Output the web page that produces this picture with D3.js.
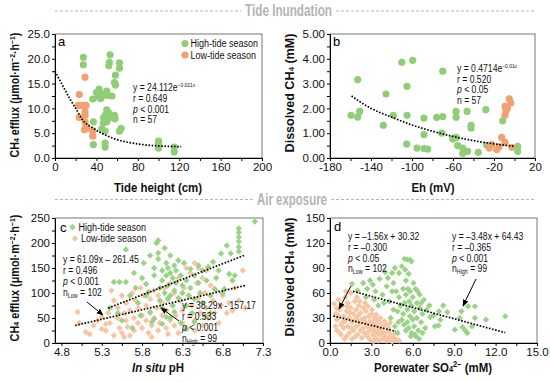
<!DOCTYPE html>
<html><head><meta charset="utf-8">
<script src="https://cdn.jsdelivr.net/npm/d3@7"></script>
<style>
body{margin:0;background:#fff}
svg{display:block}
</style></head><body>
<svg id="chart" width="550" height="382"></svg>
<script>
// ---------------- DATA ----------------
// Panel a: tide height (cm) vs CH4 efflux
const aHigh = [[27.4,20.3],[27.4,18.8],[53.2,20.8],[52.6,19.3],[52,18.6],[62.3,19.2],[62.3,18.1],[58.4,16.7],[58.4,14.7],[57.5,15.2],
  [42.6,13.9],[43.6,13.1],[36.5,11.9],[41.3,12.4],[46.8,12.6],[51.6,12.6],[50,9.7],[52,9.1],[48.4,8.6],[57.4,8.6],[58,7.9],[52,8.1],
  [46.8,7.1],[37.1,7.3],[45.2,5.9],[48.4,5.4],[63.9,6.0],[62.3,5.4],[37.1,2.7],[48.4,3.0],[48.4,2.2],[100,3.4],[100,2.7],[100,2.0],
  [115.2,2.2],[115.2,1.2],[44,12.0],[55,12.5],[50,13.5],[47,8.1],[50,7.3],[40,13.2],[56,8.3]];
const aLow = [[29,16.3],[23.5,12.8],[22.6,10.6],[26.4,10.6],[30,10.6],[23.5,8.2],[29,8.6],[29,7.3],[30,6.4],[28.4,5.7],[36.5,5.5],[36.5,4.4],[31,6.0],[29,9.3]];
const aTrend = [[0,17.5],[10,13.6],[15,11.7],[20,10.0],[27,7.6],[37,6.0],[45,5.0],[60,3.7],[75,3.0],[92,2.55],[110,2.35],[122,2.3]];
const aXTicks = [0,40,80,120,160,200];
const aYTicks = [0,5,10,15,20,25];

// Panel b: Eh (mV) vs dissolved CH4
const bHigh = [[-153,3.16],[-110,3.86],[-99.3,3.94],[-70,3.5],[-125.4,2.58],[-104.9,2.89],[-159.5,1.72],[-153,1.65],[-151,1.88],[-128,1.32],
  [-118.2,1.72],[-104.9,1.72],[-88.3,1.61],[-75.9,1.64],[-70,1.67],[-57,1.88],[-57,1.64],[-46.3,1.88],[-42.4,1.32],[-42.4,1.21],[-28,1.95],
  [-88.3,0.94],[-71,1.0],[-57,0.83],[-60.3,0.77],[-105.2,0.56],[-95.1,0.40],[-88.3,0.38],[-84.7,0.36],[-55.4,0.50],[-50.5,0.40],[-45.7,0.27],
  [-50.5,0.18],[-35.3,0.23],[-27.1,0.51],[-11.5,1.50],[3.1,0.47],[3.1,0.27]];
const bLow = [[-5.1,2.39],[-3.7,2.22],[-9.3,2.08],[-8.3,1.91],[-9.3,1.72],[-12.5,0.83],[-9.3,0.63],[-22.2,0.54],[-24.6,0.40],[-17.4,0.34],[-2.7,0.43],[-7,2.0],[-15,0.45]];
const bTrend = [[-159,2.5],[-140,2.0],[-120,1.65],[-100,1.33],[-80,1.08],[-60,0.87],[-40,0.70],[-20,0.57],[0,0.47]];
const bXTicks = [-180,-140,-100,-60,-20,20];
const bYTicks = [0,1,2,3,4,5];

// Panel c: in situ pH vs CH4 efflux
const cHigh = [[5.4,70],[5.45,122],[5.52,122],[5.6,122],[5.6,187],[5.5,60],[5.55,45],[5.65,95],[5.7,140],[5.72,110],[5.75,80],[5.78,55],
  [5.8,130],[5.82,160],[5.85,95],[5.85,118],[5.88,102],[5.9,175],[5.9,62],[5.92,42],[5.95,150],[5.95,135],[5.98,200],[6.0,205],[6.0,180],
  [6.0,168],[6.02,110],[6.02,85],[6.05,125],[6.05,145],[6.05,70],[6.08,190],[6.08,100],[6.1,160],[6.1,135],[6.1,52],[6.12,150],[6.12,115],
  [6.12,88],[6.15,175],[6.15,140],[6.15,95],[6.18,130],[6.18,75],[6.2,155],[6.2,105],[6.2,62],[6.22,145],[6.22,120],[6.25,165],[6.25,90],
  [6.28,135],[6.28,40],[6.3,115],[6.3,100],[6.32,160],[6.35,125],[6.35,75],[6.38,95],[6.4,148],[6.4,110],[6.42,60],[6.45,135],[6.45,88],
  [6.5,155],[6.5,120],[6.52,100],[6.55,80],[6.55,145],[6.58,55],[6.6,125],[6.62,152],[6.65,95],[6.68,162],[6.7,108],[6.72,130],[6.75,145],
  [6.78,179],[6.8,100],[6.85,195],[6.88,138],[6.9,179],[6.92,125],[6.95,135],[7.0,229],[7.0,221],[7.0,212],[7.0,203],[7.0,192],[7.0,183],
  [7.2,243],[6.05,38],[5.95,48],[6.65,60],[6.45,42],[6.15,50],[5.68,30],[6.35,28],[6.82,108]];
const cLow = [[5.0,62],[5.02,40],[5.1,22],[5.15,18],[5.2,35],[5.25,45],[5.3,28],[5.3,52],[5.35,25],[5.38,60],[5.4,40],[5.42,105],[5.45,85],
  [5.45,15],[5.5,50],[5.5,70],[5.52,30],[5.55,95],[5.55,20],[5.58,60],[5.6,45],[5.6,80],[5.62,32],[5.65,65],[5.65,15],[5.68,100],[5.7,50],
  [5.7,25],[5.72,85],[5.75,40],[5.75,70],[5.78,110],[5.8,55],[5.8,30],[5.82,95],[5.85,75],[5.85,45],[5.88,20],[5.9,60],[5.9,88],[5.92,35],
  [5.95,105],[5.95,50],[5.98,70],[6.0,25],[6.0,95],[6.02,40],[6.05,80],[6.05,55],[6.08,110],[6.1,30],[6.1,65],[6.12,90],[6.15,45],[6.15,120],
  [6.18,75],[6.2,35],[6.2,100],[6.22,55],[6.25,130],[6.25,20],[6.28,85],[6.3,40],[6.3,65],[6.32,110],[6.35,150],[6.35,30],[6.38,95],[6.4,55],
  [6.4,140],[6.42,75],[6.45,160],[6.45,45],[6.48,120],[6.5,90],[6.5,150],[6.52,60],[6.55,35],[6.55,130],[6.58,100],[6.6,70],[6.6,145],
  [6.62,50],[6.65,115],[6.68,85],[6.7,60],[6.72,105],[6.75,40],[6.78,75],[6.8,95],[6.85,60],[6.88,80],[6.92,65],[6.95,110],[7.0,85],
  [7.05,145],[7.08,70],[5.35,38],[5.58,12],[5.92,12],[6.12,18],[6.45,25]];
const cTrendHigh = [[5.38,70],[7.08,176]];
const cTrendLow = [[4.97,35],[7.08,115]];
const cXTicks = [4.8,5.3,5.8,6.3,6.8,7.3];
const cYTicks = [0,50,100,150,200,250];

// Panel d: porewater SO4 vs dissolved CH4
const dHigh = [[1.6,71],[2.0,63],[2.4,72],[2.6,55],[2.9,75],[3.1,70],[3.3,62],[3.6,77],[3.5,45],[3.8,58],[4.0,85],[4.1,68],[4.3,50],[4.5,84],
  [4.6,72],[4.7,90],[4.8,62],[5.0,84],[5.0,55],[5.2,92],[5.4,101],[5.6,100],[5.8,100],[5.9,98],[5.7,83],[5.5,75],[5.3,65],[5.1,45],[4.9,38],
  [4.6,40],[4.4,30],[4.7,20],[4.9,12],[5.2,28],[5.3,35],[5.4,48],[5.5,58],[5.6,40],[5.6,25],[5.7,18],[5.8,62],[5.8,32],[5.9,45],[5.9,12],
  [6.0,55],[6.0,28],[6.1,38],[6.1,20],[6.2,65],[6.2,8],[6.3,48],[6.3,30],[6.4,15],[6.5,42],[6.5,58],[6.6,25],[6.7,35],[6.8,52],[6.9,18],
  [7.0,40],[7.2,45],[7.26,31],[7.5,33],[7.86,21],[7.9,38],[8.0,28],[8.5,37],[9.05,16],[9.4,30],[9.52,38],[9.6,19],[9.8,15],[9.95,12],
  [10.0,44],[10.3,20],[10.5,44],[10.5,30],[11.3,28],[12.7,32],[5.5,15],[5.75,50],[6.05,72],[5.35,22],[4.95,25],[6.15,10],[6.35,62],
  [5.65,65],[4.5,62],[3.9,48],[3.2,52],[2.7,65],[6.7,12],[7.6,20],[8.2,45],[5.85,8],[6.45,5],[5.45,88],[4.2,78],[6.6,48]];
const dLow = [[0.3,47],[0.4,35],[0.5,28],[0.5,15],[0.6,52],[0.7,40],[0.8,22],[0.8,10],[0.9,45],[1.0,32],[1.0,18],[1.1,55],[1.1,26],[1.2,38],
  [1.2,8],[1.3,48],[1.3,20],[1.4,30],[1.4,12],[1.5,60],[1.5,42],[1.6,25],[1.6,5],[1.7,35],[1.7,15],[1.8,50],[1.8,28],[1.9,20],[1.9,40],
  [2.0,10],[2.0,32],[2.1,45],[2.1,22],[2.2,15],[2.2,36],[2.3,28],[2.3,6],[2.4,42],[2.4,18],[2.5,30],[2.5,12],[2.6,24],[2.6,38],[2.7,8],
  [2.7,20],[2.8,32],[2.8,14],[2.9,26],[2.9,4],[3.0,18],[3.0,35],[3.1,10],[3.1,24],[3.2,30],[3.2,15],[3.3,6],[3.3,22],[3.4,12],[3.4,28],
  [3.5,18],[3.5,3],[3.6,25],[3.6,10],[3.7,15],[3.8,20],[3.8,5],[3.9,12],[4.0,8],[4.0,22],[4.1,3],[4.2,14],[4.3,6],[4.4,10],[4.5,2],
  [4.6,7],[4.8,4],[5.0,3],[0.6,33],[0.9,25],[1.25,44],[1.55,18],[1.85,8],[2.15,50],[2.45,26],[2.75,44],[3.05,40],[3.35,34],[3.65,30],
  [3.95,26],[4.25,18],[0.4,20],[0.7,12],[1.05,5],[1.45,36],[2.05,26],[2.55,48],[3.15,2],[4.35,24],[4.7,12],[1.95,55],[1.15,62],[0.5,42]];
const dTrendHigh = [[1.67,62],[12.7,12.4]];
const dTrendLow = [[0.24,32.4],[4.76,14]];
const dXTicks = [0,3,6,9,12,15];
const dYTicks = [0,30,60,90,120,150];

const legendLabels = ["High-tide season","Low-tide season"];

// ---------------- STYLE ----------------
const GREEN = "#8fcd76", ORANGE = "#f0a16f";
const GREEN2 = "#9ad385", ORANGE2 = "#f6c6a3";
const SANS = "'Liberation Sans',Arial,sans-serif";
const SQ = 0.82; // horizontal squeeze of annotation text

const svg = d3.select("#chart");

function rich(sel, parts){
  parts.forEach(p=>{
    const t = sel.append("tspan").text(p.t);
    if(p.fs) t.attr("font-size", p.fs);
    if(p.dy) t.attr("dy", p.dy);
    if(p.it) t.attr("font-style","italic");
  });
  return sel;
}

function panel(o){
  const x = d3.scaleLinear().domain(o.xd).range([o.L,o.R]);
  const y = d3.scaleLinear().domain(o.yd).range([o.B,o.T]);
  const g = svg.append("g");
  g.append("rect").attr("x",o.L).attr("y",o.T).attr("width",o.R-o.L).attr("height",o.B-o.T)
    .attr("fill","none").attr("stroke","#555").attr("stroke-width",0.8);
  const isMajor = (arr,d)=>arr.some(m=>Math.abs(m-d)<1e-6);
  const xa = d3.axisBottom(x).tickValues(o.xMinor).tickSize(3).tickSizeOuter(0).tickPadding(2)
    .tickFormat(d=>isMajor(o.xMajor,d)?o.xf(d):"");
  const ya = d3.axisLeft(y).tickValues(o.yMinor).tickSize(3).tickSizeOuter(0).tickPadding(2)
    .tickFormat(d=>isMajor(o.yMajor,d)?o.yf(d):"");
  const gx = g.append("g").attr("transform",`translate(0,${o.B})`).call(xa);
  const gy = g.append("g").attr("transform",`translate(${o.L},0)`).call(ya);
  [gx,gy].forEach(a=>{
    a.select(".domain").attr("stroke","#000").attr("stroke-width",1);
    a.selectAll(".tick line").attr("stroke","#000");
    a.selectAll("text").attr("font-size",11.5).attr("font-family",SANS).attr("fill","#111");
  });
  return {x,y,g};
}

function range(a,b,s){const r=[];for(let v=a;v<=b+1e-9;v+=s)r.push(+v.toFixed(4));return r;}

function dotted(p, pts, curve){
  p.g.append("path").datum(pts)
    .attr("d", d3.line().x(d=>p.x(d[0])).y(d=>p.y(d[1])).curve(curve||d3.curveLinear))
    .attr("fill","none").attr("stroke","#000").attr("stroke-width",1.7).attr("stroke-dasharray","1.6,1.6");
}
function circles(p, data, col){
  p.g.append("g").selectAll("circle").data(data).join("circle")
    .attr("cx",d=>p.x(d[0])).attr("cy",d=>p.y(d[1])).attr("r",3.6).attr("fill",col);
}
function diamonds(p, data, col){
  const sym = d3.symbol(d3.symbolSquare, 20);
  p.g.append("g").selectAll("path").data(data).join("path")
    .attr("d", sym).attr("transform",d=>`translate(${p.x(d[0])},${p.y(d[1])}) rotate(45)`).attr("fill",col);
}
function note(p, x0, y0, parts, fs){
  const t = p.g.append("text").attr("transform",`translate(${x0},${y0}) scale(${SQ},1)`)
    .attr("font-family",SANS).attr("font-size",fs||10.5).attr("fill","#111");
  return rich(t, parts);
}
function textBlock(p, x0, y0, lines, lh){
  lines.forEach((parts,i)=> note(p, x0, y0+i*lh, parts));
}
function arrow(p, x1,y1,x2,y2){
  p.g.append("line").attr("x1",x1).attr("y1",y1).attr("x2",x2).attr("y2",y2)
    .attr("stroke","#000").attr("stroke-width",1).attr("marker-end","url(#arr)");
}
const defs = svg.append("defs");
defs.append("marker").attr("id","arr").attr("viewBox","0 0 10 10").attr("refX",9).attr("refY",5)
  .attr("markerWidth",7).attr("markerHeight",7).attr("orient","auto")
  .append("path").attr("d","M0,1 L10,5 L0,9 Z").attr("fill","#000");

// rotated axis title fitted to a target length
function fitted(cx, cy, rot, len, parts){
  const t = svg.append("text").attr("text-anchor","middle")
    .attr("font-family",SANS).attr("font-weight","bold").attr("font-size",12.5).attr("fill","#111");
  rich(t,parts);
  const w = t.node().getComputedTextLength();
  const k = len / w;
  t.attr("transform",`translate(${cx},${cy}) rotate(${rot}) scale(${k},1)`);
}
// horizontal axis title, uniformly squeezed
function xTitle(cx, y, parts){
  const t = svg.append("text").attr("text-anchor","middle")
    .attr("transform",`translate(${cx},${y}) scale(0.88,1)`)
    .attr("font-family",SANS).attr("font-weight","bold").attr("font-size",13).attr("fill","#111");
  rich(t,parts);
}
function banner(cx,y,label,len,x0,x1){
  const t = svg.append("text").attr("text-anchor","middle")
    .attr("font-family",SANS).attr("font-weight","bold").attr("font-size",16).attr("fill","#b4b4b4").text(label);
  const w = t.node().getComputedTextLength();
  t.attr("transform",`translate(${cx},${y+5}) scale(${len/w},1)`);
  svg.append("line").attr("x1",x0).attr("x2",cx-len/2-4).attr("y1",y).attr("y2",y)
    .attr("stroke","#b4b4b4").attr("stroke-width",1).attr("stroke-dasharray","3,2");
  svg.append("line").attr("x1",cx+len/2+4).attr("x2",x1).attr("y1",y).attr("y2",y)
    .attr("stroke","#b4b4b4").attr("stroke-width",1).attr("stroke-dasharray","3,2");
}

// ---------------- BANNERS ----------------
banner(288.5, 11, "Tide Inundation", 87, 55, 536);
banner(292, 199.5, "Air exposure", 70, 55, 536);

// ---------------- PANEL A ----------------
const pa = panel({L:55,R:262,T:34,B:158,xd:[0,200],yd:[0,25],
  xMinor:range(0,200,20),xMajor:aXTicks,xf:d=>String(d),
  yMinor:range(0,25,2.5),yMajor:aYTicks,yf:d3.format(".1f")});
circles(pa,aHigh,GREEN); circles(pa,aLow,ORANGE);
dotted(pa,aTrend,d3.curveMonotoneX);
pa.g.append("text").attr("x",58).attr("y",46).attr("font-family",SANS).attr("font-size",13).text("a");
[[GREEN,legendLabels[0],43.5],[ORANGE,legendLabels[1],55]].forEach(([c,l,yy])=>{
  pa.g.append("circle").attr("cx",185).attr("cy",yy).attr("r",3.6).attr("fill",c);
  note(pa,190.5,yy+3.7,[{t:l}],11);
});
textBlock(pa,133,91,[
  [{t:"y = 24.112e"},{t:"−0.021x",fs:6,dy:-4}],
  [{t:"r = 0.649"}],
  [{t:"p",it:1},{t:" < 0.001"}],
  [{t:"n = 57"}]],10.8);

// ---------------- PANEL B ----------------
const pb = panel({L:330,R:535,T:34,B:158,xd:[-180,20],yd:[0,5],
  xMinor:range(-180,20,20),xMajor:bXTicks,xf:d=>String(d),
  yMinor:range(0,5,0.5),yMajor:bYTicks,yf:d3.format(".2f")});
circles(pb,bHigh,GREEN); circles(pb,bLow,ORANGE);
dotted(pb,bTrend,d3.curveMonotoneX);
pb.g.append("text").attr("x",333).attr("y",46).attr("font-family",SANS).attr("font-size",13).text("b");
textBlock(pb,457,72,[
  [{t:"y = 0.4714e"},{t:"−0.01x",fs:6,dy:-4}],
  [{t:"r = 0.520"}],
  [{t:"p",it:1},{t:" < 0.05"}],
  [{t:"n = 57"}]],10.5);

// ---------------- PANEL C ----------------
const pc = panel({L:55,R:263,T:218,B:343,xd:[4.72,7.3],yd:[0,250],
  xMinor:range(4.8,7.3,0.25),xMajor:cXTicks,xf:d3.format(".1f"),
  yMinor:range(0,250,25),yMajor:cYTicks,yf:d=>String(d)});
diamonds(pc,cLow,ORANGE2); diamonds(pc,cHigh,GREEN2);
dotted(pc,cTrendHigh); dotted(pc,cTrendLow);
pc.g.append("text").attr("x",60).attr("y",232).attr("font-family",SANS).attr("font-size",13).text("c");
[[GREEN2,legendLabels[0],227],[ORANGE2,legendLabels[1],238.5]].forEach(([c,l,yy],i)=>{
  const cx = i? 75:72.5;
  pc.g.append("path").attr("d",d3.symbol(d3.symbolSquare,20)).attr("transform",`translate(${cx},${yy}) rotate(45)`).attr("fill",c);
  note(pc,cx+6,yy+3.7,[{t:l}],11);
});
textBlock(pc,63,263,[
  [{t:"y = 61.09x – 261.45"}],
  [{t:"r = 0.496"}],
  [{t:"p",it:1},{t:" < 0.001"}],
  [{t:"n"},{t:"Low",fs:6.5,dy:1.5},{t:" = 102",dy:-1.5}]],11);
arrow(pc,87,302,103,315);
textBlock(pc,182,309,[
  [{t:"y = 38.29x - 157.17"}],
  [{t:"r = 0.533"}],
  [{t:"p",it:1},{t:" < 0.001"}],
  [{t:"n"},{t:"High",fs:6.5,dy:1.5},{t:" = 99",dy:-1.5}]],11);
arrow(pc,179,321,161,308);

// ---------------- PANEL D ----------------
const pd = panel({L:330,R:537,T:218,B:343,xd:[0,15],yd:[0,150],
  xMinor:range(0,15,1.5),xMajor:dXTicks,xf:d3.format(".1f"),
  yMinor:range(0,150,15),yMajor:dYTicks,yf:d=>String(d)});
diamonds(pd,dLow,ORANGE2); diamonds(pd,dHigh,GREEN2);
dotted(pd,dTrendHigh); dotted(pd,dTrendLow);
pd.g.append("text").attr("x",334).attr("y",231).attr("font-family",SANS).attr("font-size",13).text("d");
textBlock(pd,348,240,[
  [{t:"y = –1.56x + 30.32"}],
  [{t:"r = –0.300"}],
  [{t:"p",it:1},{t:" < 0.05"}],
  [{t:"n"},{t:"Low",fs:6.5,dy:1.5},{t:" = 102",dy:-1.5}]],10.8);
arrow(pd,351,286,339,309);
textBlock(pd,452,240,[
  [{t:"y = –3.48x + 64.43"}],
  [{t:"r = –0.365"}],
  [{t:"p",it:1},{t:" < 0.001"}],
  [{t:"n"},{t:"High",fs:6.5,dy:1.5},{t:" = 99",dy:-1.5}]],10.8);
arrow(pd,476,279,463,306);

// ---------------- AXIS TITLES ----------------
const efflux = [{t:"CH"},{t:"4",fs:8},{t:" efflux (μmol·m"},{t:"−2",fs:8,dy:-4},{t:"·h",dy:4},{t:"−1",fs:8,dy:-4},{t:")",dy:4}];
const dissolved = [{t:"Dissolved CH"},{t:"4",fs:8},{t:" (mM)"}];
fitted(19,95,-90,125,efflux);
fitted(294,93,-90,119,dissolved);
fitted(19,278,-90,127,efflux);
fitted(294,277,-90,119,dissolved);
xTitle(158,192,[{t:"Tide height (cm)"}]);
xTitle(433,192,[{t:"Eh (mV)"}]);
xTitle(158,372,[{t:"In situ",it:1},{t:" pH"}]);
xTitle(433,372,[{t:"Porewater SO"},{t:"4",fs:8.5},{t:"2−",fs:8.5,dy:-5},{t:" (mM)",dy:5}]);
</script>
</body></html>
